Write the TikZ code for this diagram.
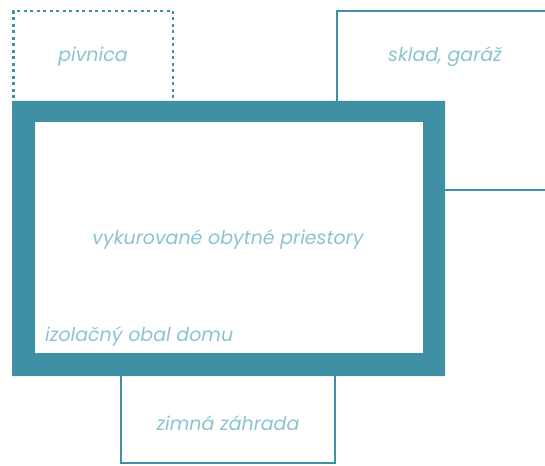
\documentclass[tikz,border=0pt]{standalone}
\usepackage{fontspec}
\setmainfont{Poppins}
\definecolor{frame}{HTML}{3F8FA5}
\definecolor{txt}{HTML}{8CC3D0}
\begin{document}
\begin{tikzpicture}[x=1pt,y=-1pt,
  lbl/.style={text=txt,font=\itshape\fontsize{19}{22}\selectfont,inner sep=0pt},
  thin/.style={draw=frame,line width=2pt}]
\useasboundingbox (0,0) rectangle (545,465);
% pivnica dashed box
\draw[frame,line width=2.5pt,dash pattern=on 3pt off 3.5pt] (13.5,170) -- (13.5,11) -- (173,11) -- (173,101);
% sklad
\draw[thin] (545,11) -- (337,11) -- (337,101);
\draw[thin] (445,190) -- (545,190);
% zimna zahrada
\draw[thin] (121,376) -- (121,463) -- (335,463) -- (335,376);
% frame
\fill[frame,even odd rule] (12,101) rectangle (445,376) (35,122) rectangle (423,353);
\node[lbl] (piv) at (93,57) {pivnica};
\node[lbl] (skl) at (445,57) {sklad, garáž};
\node[lbl] (vyk) at (228,240) {vykurované obytné priestory};
\node[lbl,anchor=west] (izo) at (45,337) {izolačný obal domu};
\node[lbl] (zim) at (228,423) {zimná záhrada};
\end{tikzpicture}
\end{document}
